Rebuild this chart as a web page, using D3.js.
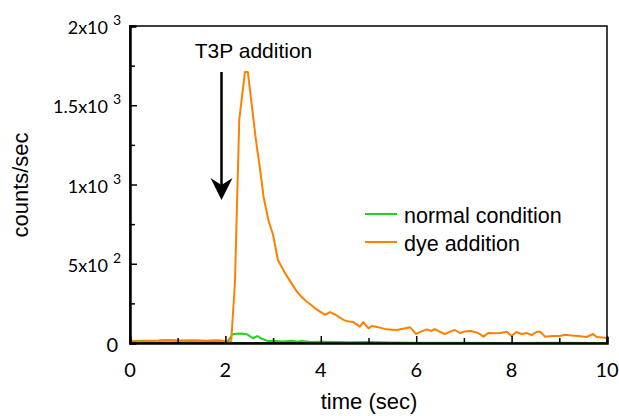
<!DOCTYPE html>
<html><head><meta charset="utf-8">
<script src="https://cdn.jsdelivr.net/npm/d3@7"></script>
<style>body{margin:0;background:#fff}svg{display:block}</style>
</head><body>
<svg id="c" width="619" height="416"></svg>
<script>
// ---- data ----
const dyeTime = [0,0.2,0.4,0.6,0.8,1.0,1.2,1.4,1.6,1.8,2.0,2.12,2.2,2.29,2.41,2.47,2.64,2.73,2.8,2.9,3.0,3.1,3.25,3.4,3.5,3.6,3.7,3.8,3.9,4.0,4.09,4.19,4.3,4.4,4.5,4.6,4.68,4.82,4.89,5.0,5.07,5.2,5.38,5.5,5.59,5.75,5.87,6.0,6.1,6.22,6.32,6.39,6.5,6.6,6.7,6.81,6.92,7.0,7.13,7.2,7.3,7.41,7.51,7.6,7.76,7.9,8.0,8.1,8.21,8.32,8.42,8.53,8.6,8.7,8.85,9.01,9.12,9.25,9.4,9.57,9.71,9.78,9.9,10];
const dyeCounts = [15,10,12,14,18,15,14,16,14,18,12,5,380,1407,1710,1710,1280,1090,923,776,681,524,441,370,324,290,262,240,215,195,177,195,180,160,142,135,132,103,132,92,107,100,86,84,82,92,99,57,72,86,76,88,70,57,70,82,63,72,76,72,63,40,63,62,63,71,44,69,57,63,50,71,71,40,44,44,52,48,44,38,57,38,34,32];
const normTime = [0,0.3,0.6,0.8,1.0,1.3,1.6,1.9,2.05,2.15,2.3,2.45,2.58,2.67,2.76,2.9,3.0,3.2,3.4,3.5,3.6,3.8,4.0,4.3,4.6,5.0,5.5,6.0,7.0,8.0,9.0,10];
const normCounts = [12,14,15,18,14,15,13,14,10,55,60,55,30,44,27,12,14,10,14,8,13,6,8,6,5,6,3,2,1,0,2,0];
const xTicks = [0,2,4,6,8,10];
const yTicks = [
  {v:0, base:"0", exp:""},
  {v:500, base:"5x10", exp:"2"},
  {v:1000, base:"1x10", exp:"3"},
  {v:1500, base:"1.5x10", exp:"3"},
  {v:2000, base:"2x10", exp:"3"}
];
const seriesNames = ["normal condition","dye addition"];
const seriesColors = ["#1ed21e","#ff8000"];

// ---- chart ----
const svg = d3.select("#c");
const L=130, R=607, T=26, B=343;
const x = d3.scaleLinear().domain([0,10]).range([L,R]);
const y = d3.scaleLinear().domain([0,2000]).range([B,T]);
const tickFont = "Lato, 'Open Sans', sans-serif";
const arial = "'Liberation Sans', Arial, sans-serif";

// frame
svg.append("rect").attr("x",L).attr("y",T).attr("width",R-L).attr("height",B-T)
  .attr("fill","none").attr("stroke","#000").attr("stroke-width",1.5);

// lines
const line = d3.line().x(d=>x(d[0])).y(d=>y(d[1]));
const normData = normTime.map((t,i)=>[t,normCounts[i]]);
const dyeData = dyeTime.map((t,i)=>[t,dyeCounts[i]]);
svg.append("path").datum(normData).attr("d",line).attr("fill","none")
  .attr("stroke",seriesColors[0]).attr("stroke-width",2).attr("stroke-linejoin","round");
svg.append("path").datum(dyeData).attr("d",line).attr("fill","none")
  .attr("stroke",seriesColors[1]).attr("stroke-width",2).attr("stroke-linejoin","round");

// axes (inward ticks)
const xAxis = svg.append("g").attr("transform",`translate(0,${B})`)
  .call(d3.axisTop(x).tickValues(d3.range(0,11,1)).tickSize(6).tickFormat(""));
xAxis.select(".domain").attr("stroke-width",2.5);
xAxis.selectAll(".tick line").attr("stroke-width",1.5).attr("y2",d=>d%2===0?-7:-5);
const yAxis = svg.append("g").attr("transform",`translate(${L},0)`)
  .call(d3.axisRight(y).tickValues(d3.range(0,2001,250)).tickSize(6).tickFormat(""));
yAxis.select(".domain").attr("stroke-width",2.5);
yAxis.selectAll(".tick line").attr("stroke-width",1.5).attr("x2",d=>d%500===0?7:5);

// x tick labels
svg.append("g").selectAll("text").data(xTicks).join("text")
  .attr("x",d=>x(d)).attr("y",B+34).attr("text-anchor","middle")
  .attr("font-family",tickFont).attr("font-size",20).attr("fill","#000").text(d=>d);

// y tick labels
const yl = svg.append("g");
yTicks.forEach(t=>{
  if(t.exp===""){
    yl.append("text").attr("x",118).attr("y",y(t.v)+9).attr("text-anchor","end")
      .attr("font-family",tickFont).attr("font-size",20).text(t.base);
  } else {
    yl.append("text").attr("x",108).attr("y",y(t.v)+8).attr("text-anchor","end")
      .attr("font-family",tickFont).attr("font-size",18).text(t.base);
    yl.append("text").attr("x",113).attr("y",y(t.v)-1).attr("text-anchor","start")
      .attr("font-family",tickFont).attr("font-size",14).text(t.exp);
  }
});

// axis titles
svg.append("text").attr("x",369).attr("y",409).attr("text-anchor","middle")
  .attr("font-family",arial).attr("font-size",22).text("time (sec)");
svg.append("text").attr("transform","translate(28,185) rotate(-90)").attr("text-anchor","middle")
  .attr("font-family",arial).attr("font-size",22).text("counts/sec");

// annotation
svg.append("text").attr("x",253.5).attr("y",58).attr("text-anchor","middle")
  .attr("font-family",arial).attr("font-size",21).text("T3P addition");
const ax = 221.5;
svg.append("line").attr("x1",ax).attr("x2",ax).attr("y1",72).attr("y2",190)
  .attr("stroke","#000").attr("stroke-width",2.5);
svg.append("path").attr("d",`M${ax},200 L${ax-11},178 L${ax},185 L${ax+11},178 Z`).attr("fill","#000");

// legend
const lg = svg.append("g");
[[214,0],[242,1]].forEach(([ly,i])=>{
  lg.append("line").attr("x1",365).attr("x2",397).attr("y1",ly).attr("y2",ly)
    .attr("stroke",seriesColors[i]).attr("stroke-width",2);
  lg.append("text").attr("x",404).attr("y",ly+8.5).attr("font-family",arial)
    .attr("font-size",21.5).text(seriesNames[i]);
});
</script>
</body></html>
